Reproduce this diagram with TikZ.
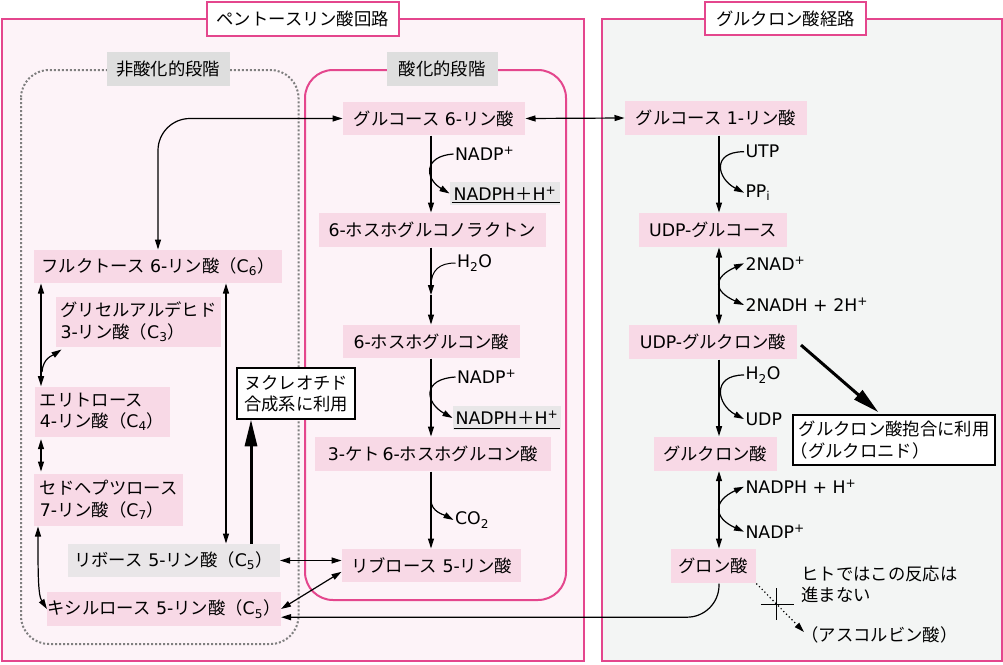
\documentclass[tikz,border=0pt]{standalone}
\usepackage{fontspec}
\setmainfont{DejaVu Sans}
\newfontfamily\jpfont{Noto Sans CJK JP}
\usetikzlibrary{arrows.meta,calc}

% Japanese characters switch to the CJK family automatically
\XeTeXinterchartokenstate=1
\newXeTeXintercharclass\jpclass
\newcount\cpt
\newcommand\setjprange[2]{\cpt=#1\relax
  \loop\XeTeXcharclass\cpt=\jpclass\relax
  \ifnum\cpt<#2\relax\advance\cpt by 1\repeat}
\setjprange{"3000}{"30FF}
\setjprange{"4E00}{"9FFF}
\setjprange{"FF00}{"FFEF}
\XeTeXinterchartoks 0 \jpclass = {\jpfont}
\XeTeXinterchartoks 4095 \jpclass = {\jpfont}
\XeTeXinterchartoks \jpclass 0 = {\normalfont}
\XeTeXinterchartoks \jpclass 4095 = {\normalfont}

\definecolor{pathpink}{HTML}{E4468D}
\definecolor{panelpink}{HTML}{FDF3F8}
\definecolor{panelgray}{HTML}{F3F5F4}
\definecolor{sugarpink}{HTML}{F8D9E6}
\definecolor{hdrgray}{HTML}{DEDEDE}
\definecolor{ribgray}{HTML}{E9E6E8}
\definecolor{cofgray}{HTML}{E8E7E8}
\definecolor{dotgray}{HTML}{7F7F7F}

\tikzset{every picture/.style={line width=0.75pt}}
\tikzset{
  sugar/.style={fill=sugarpink, inner sep=0pt, align=left},
  ribose/.style={fill=ribgray, inner sep=0pt},
  usebox/.style={draw=black, fill=white, line width=0.9pt, inner sep=0pt, align=left},
  pathtitle/.style={draw=pathpink, fill=white, line width=1.5pt, inner sep=0pt},
  phasehdr/.style={fill=hdrgray, inner sep=0pt},
  cofac/.style={anchor=west, inner sep=0.75pt},
  cofbox/.style={fill=cofgray, inner sep=0pt},
  rxn/.style={line width=0.9pt, -{Triangle[length=7.5pt,width=4.5pt]}},
  rxnb/.style={line width=0.9pt, {Triangle[length=7.5pt,width=4.5pt]}-{Triangle[length=7.5pt,width=4.5pt]}},
  bigarrow/.style={line width=2.25pt, -{Triangle[length=20pt,width=9pt]}},
}

\begin{document}
\begin{tikzpicture}[x=0.75pt,y=0.75pt,yscale=-1,xscale=1,font=\fontsize{13pt}{16pt}\selectfont]
\useasboundingbox (0,0) rectangle (1003,664);

%Shape: Rectangle [pentose panel]
\draw [draw=pathpink, fill=panelpink, line width=1.5pt] (2,19) rectangle (584,661);
%Shape: Rectangle [glucuronate panel]
\draw [draw=pathpink, fill=panelgray, line width=1.5pt] (602,19) rectangle (1001.5,660.5);
%Rounded Rect [non-oxidative phase]
\draw [dotgray, line width=1.5pt, dash pattern=on 1.5pt off 1.5pt, rounded corners=21pt] (21,70) rectangle (298.5,644);
%Rounded Rect [oxidative phase]
\draw [pathpink, line width=1.5pt, rounded corners=21pt] (305,70) rectangle (566,600);

%Axes of the vertical reactions
\coordinate (axisL) at (431,0);
\coordinate (axisR) at (719,0);
\coordinate (axisA) at (41,0);
\coordinate (axisB) at (38,0);
\coordinate (axisD) at (226,0);
\coordinate (axisN) at (251,0);
\coordinate (joinA) at (431,286);
\coordinate (midA) at (431,295);
\coordinate (splitA) at (431,500);
\coordinate (brA) at (42,372);

% Text Node
\draw (302.75,19) node [pathtitle, minimum width=144pt, minimum height=25.5pt] (ttlP) {ペントースリン酸回路};
% Text Node
\draw (785.5,18.5) node [pathtitle, minimum width=120.75pt, minimum height=24.75pt] (ttlG) {グルクロン酸経路};
% Text Node
\draw (168.3,69) node [phasehdr, minimum width=92.25pt, minimum height=25.5pt] (hdrN) {非酸化的段階};
% Text Node
\draw (442,69) node [phasehdr, minimum width=83.25pt, minimum height=25.5pt] (hdrO) {酸化的段階};

% Text Node
\draw (434,118.5) node [sugar, minimum width=136.5pt, minimum height=24.75pt] (g6p) {グルコース 6-リン酸};
% Text Node
\draw (432.5,230) node [sugar, minimum width=170.25pt, minimum height=25.5pt] (pgl) {6-ホスホグルコノラクトン};
% Text Node
\draw (431.5,341.5) node [sugar, minimum width=132.75pt, minimum height=24.75pt] (pg) {6-ホスホグルコン酸};
% Text Node
\draw (433,454) node [sugar, minimum width=177pt, minimum height=25.5pt] (kpg) {3-ケト\,6-ホスホグルコン酸};
% Text Node
\draw (431.5,565.5) node [sugar, minimum width=134.25pt, minimum height=24.75pt] (ru5p) {リブロース 5-リン酸};

% Text Node
\draw (158,266.5) node [sugar, minimum width=186pt, minimum height=24.75pt] (f6p) {フルクトース 6-リン酸（C\textsubscript{6}）};
% Text Node
\draw (138.5,322) node [sugar, minimum width=123.75pt, minimum height=37.5pt] (ga3p) {グリセルアルデヒド\\3-リン酸（C\textsubscript{3}）};
% Text Node
\draw (102,411.7) node [sugar, minimum width=101.25pt, minimum height=37.5pt] (e4p) {エリトロース\\4-リン酸（C\textsubscript{4}）};
% Text Node
\draw (108.7,500) node [sugar, minimum width=111.75pt, minimum height=39pt] (s7p) {セドヘプツロース\\7-リン酸（C\textsubscript{7}）};
% Text Node
\draw (173.5,560.5) node [ribose, minimum width=159pt, minimum height=24.75pt] (r5p) {リボース 5-リン酸（C\textsubscript{5}）};
% Text Node
\draw (164,609) node [sugar, minimum width=174.75pt, minimum height=25.5pt] (xu5p) {キシルロース 5-リン酸（C\textsubscript{5}）};
% Text Node
\draw (296,393.5) node [usebox, minimum width=88.5pt, minimum height=38.25pt] (nuc) {ヌクレオチド\\合成系に利用};

% Text Node
\draw (716,118) node [sugar, minimum width=136.5pt, minimum height=25.5pt] (g1p) {グルコース 1-リン酸};
% Text Node
\draw (713,230) node [sugar, minimum width=111pt, minimum height=25.5pt] (udpg) {UDP-グルコース};
% Text Node
\draw (713,342) node [sugar, minimum width=126pt, minimum height=25.5pt] (udpga) {UDP-グルクロン酸};
% Text Node
\draw (715.3,453.7) node [sugar, minimum width=92.25pt, minimum height=25.5pt] (glca) {グルクロン酸};
% Text Node
\draw (713.3,566) node [sugar, minimum width=63.75pt, minimum height=25.5pt] (gul) {グロン酸};
% Text Node
\draw (894,440) node [usebox, minimum width=151.5pt, minimum height=37.5pt] (conj) {グルクロン酸抱合に利用\\\hspace*{-0.45em}（グルクロニド）};

% Text Node
\draw (453.5,154) node [cofac] (nadpA) {NADP\textsuperscript{+}};
% Text Node
\draw (505,193.5) node [cofbox, minimum width=82.5pt, minimum height=17.25pt] (nadphA) {NADPH＋H\textsuperscript{+}};
% Text Node
\draw (455.5,263) node [cofac] (h2oA) {H\textsubscript{2}O};
% Text Node
\draw (455.5,377) node [cofac] (nadpB) {NADP\textsuperscript{+}};
% Text Node
\draw (507,418) node [cofbox, minimum width=81pt, minimum height=18pt] (nadphB) {NADPH＋H\textsuperscript{+}};
% Text Node
\draw (453.5,520) node [cofac] (co2A) {CO\textsubscript{2}};

% Text Node
\draw (744,151.7) node [cofac] (utp) {UTP};
% Text Node
\draw (744,192.7) node [cofac] (ppi) {PP\textsubscript{i}};
% Text Node
\draw (744,263.3) node [cofac] (nad) {2NAD\textsuperscript{+}};
% Text Node
\draw (744,305) node [cofac] (nadh) {2NADH + 2H\textsuperscript{+}};
% Text Node
\draw (744,375) node [cofac] (h2oB) {H\textsubscript{2}O};
% Text Node
\draw (744,419) node [cofac] (udp) {UDP};
% Text Node
\draw (744,486.7) node [cofac] (nadphC) {NADPH + H\textsuperscript{+}};
% Text Node
\draw (744,531.7) node [cofac] (nadpC) {NADP\textsuperscript{+}};
% Text Node
\draw (800,584.5) node [cofac, align=left, font=\fontsize{13pt}{15.75pt}\selectfont] (note) {ヒトではこの反応は\\進まない};
% Text Node
\draw (800,635) node [cofac] (asc) {（アスコルビン酸）};

%Straight Lines [underlines]
\draw (nadphA.south west) ++(2,-3) -- ++(108,0);
\draw (nadphB.south west) ++(1,-2) -- ++(106.5,0);

%Straight Lines [oxidative phase]
\draw [rxn] (g6p.south -| axisL) -- (pgl.north -| axisL);
\draw [rxn] (pgl.south -| axisL) -- (midA);
\draw [rxn] (midA) -- (pg.north -| axisL);
\draw [rxn] (pg.south -| axisL) -- (kpg.north -| axisL);
\draw [rxn] (kpg.south -| axisL) -- (ru5p.north -| axisL);
%Curve Lines
\draw [rxn] (nadpA.west) .. controls +(-30,2) and +(-25,-15) .. (nadphA.west);
\draw (h2oA.west) .. controls +(-16,0) and +(0,-16) .. (joinA);
\draw [rxn] (nadpB.west) .. controls +(-34,2) and +(-27,-15) .. (nadphB.west);
\draw [rxn] (splitA) .. controls +(0,12) and +(-9,-5) .. (co2A.west);

%Straight Lines [glucuronate pathway]
\draw [rxn] (g1p.south -| axisR) -- (udpg.north -| axisR);
\draw [rxnb] (udpg.south -| axisR) -- (udpga.north -| axisR);
\draw [rxn] (udpga.south -| axisR) -- (glca.north -| axisR);
\draw [rxnb] (glca.south -| axisR) -- (gul.north -| axisR);
%Curve Lines
\draw [rxn] (utp.west) .. controls +(-33,0) and +(-27,-14) .. (ppi.west);
\draw [rxnb] (nad.west) .. controls +(-31,14) and +(-31,-14) .. (nadh.west);
\draw [rxn] (h2oB.west) .. controls +(-33,0) and +(-27,-14) .. (udp.west);
\draw [rxnb] (nadphC.west) .. controls +(-31,14) and +(-31,-14) .. (nadpC.west);

%Straight Lines [non-oxidative phase]
\draw [rxnb, rounded corners=24pt] (g6p.west) -| (f6p.north);
\draw [rxnb] (g6p.east) -- (g1p.west);
\draw [rxnb] (f6p.south -| axisA) -- (e4p.north -| axisA);
\draw [rxn] (brA) .. controls +(1,-14) and +(-9,6) .. ($(ga3p.south west)+(6,2)$);
\draw [rxnb, shorten >=1.5pt, shorten <=1.5pt] (e4p.south -| axisA) -- (s7p.north -| axisA);
\draw [rxnb] (s7p.south -| axisB) .. controls +(0,45) and +(-9,-14) .. (xu5p.west);
\draw [rxnb] (f6p.south -| axisD) -- (r5p.north -| axisD);
\draw [rxnb] (r5p.east) -- (ru5p.west |- r5p.east);
\draw [rxnb] (xu5p.east) -- (ru5p.184);
\draw [rxn, rounded corners=24pt] (gul.south -| axisR) |- (xu5p.-4);

%Thick arrows
\draw [bigarrow] (r5p.north -| axisN) -- (nuc.south -| axisN);
\draw [bigarrow, shorten <=3.5pt, shorten >=2.5pt] (udpga.east) -- (conj.117);

%Dotted arrow with block
\coordinate (ascTip) at ($(asc.west)+(4,-3)$);
\coordinate (block) at ($(gul.south east)!0.43!(ascTip)$);
\draw [dotted, line width=0.9pt, -{Triangle[length=7.5pt,width=4.5pt]}] (gul.south east) -- (ascTip);
\draw [line width=1pt] (block) ++(-16,0) -- ++(33,0) (block) ++(0,-16) -- ++(0,32);

\end{tikzpicture}
\end{document}
